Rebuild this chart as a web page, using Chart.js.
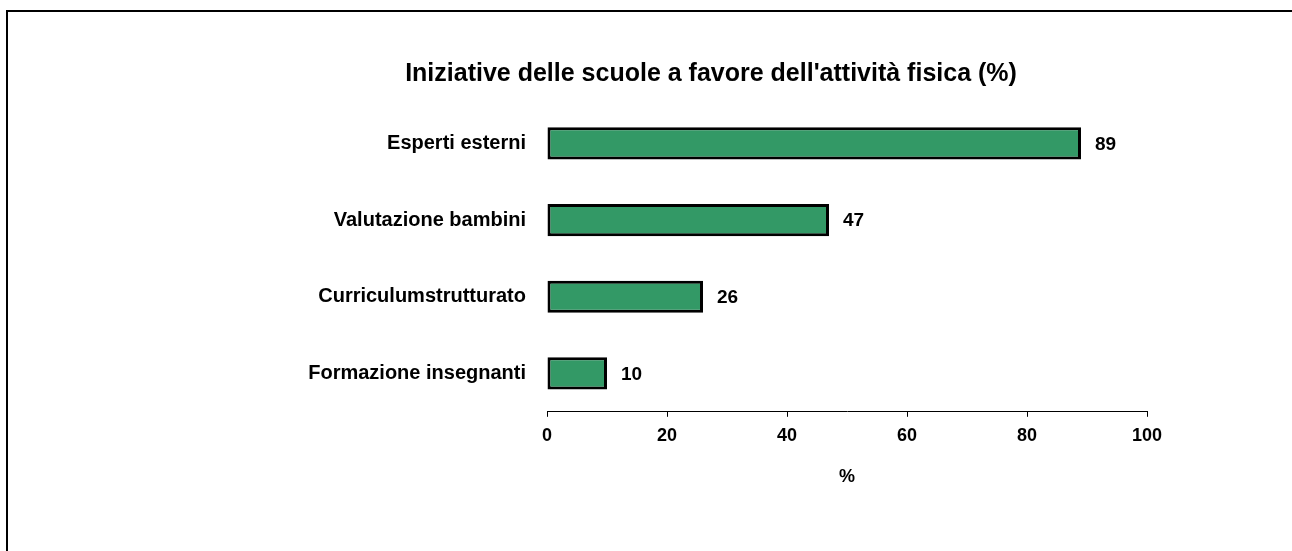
<!DOCTYPE html>
<html>
<head>
<meta charset="utf-8">
<script src="https://cdn.jsdelivr.net/npm/chart.js@4"></script>
<style>
  html, body { margin: 0; padding: 0; background: #fff; overflow: hidden; }
  #wrap { position: relative; width: 1292px; height: 551px; overflow: hidden; }
  #frame { position: absolute; left: 6px; top: 10px; width: 1400px; height: 600px; border: 2px solid #000; box-sizing: border-box; }
  #chart { position: absolute; left: 0; top: 0; }
</style>
</head>
<body>
<div id="wrap">
  <div id="frame"></div>
  <canvas id="chart" width="1292" height="551"></canvas>
</div>
<script>
const categories = ['Esperti esterni', 'Valutazione bambini', 'Curriculumstrutturato', 'Formazione insegnanti']
const values = [89, 47, 26, 10]
const xTicks = [0, 20, 40, 60, 80, 100]

const font = 'Arial, "Liberation Sans", sans-serif'

// value labels to the right of each bar
const barLabels = {
  id: 'barLabels',
  afterDatasetsDraw(chart) {
    const c = chart.ctx
    const meta = chart.getDatasetMeta(0)
    c.save()
    c.font = 'bold 19px ' + font
    c.fillStyle = '#000'
    c.textAlign = 'left'
    c.textBaseline = 'middle'
    meta.data.forEach((bar, i) => {
      c.fillText(values[i], bar.x + 14, bar.y + 1)
    })
    c.restore()
  }
}

new Chart(document.getElementById('chart'), {
  type: 'bar',
  data: {
    labels: categories,
    datasets: [{
      data: values,
      backgroundColor: '#339966',
      borderColor: '#000',
      borderWidth: 3,
      borderSkipped: false,
      barPercentage: 0.42,
      categoryPercentage: 1,
    }],
  },
  options: {
    indexAxis: 'y',
    responsive: false,
    animation: false,
    layout: {
      padding: { left: 275, right: 145, top: 0, bottom: 63 },
    },
    scales: {
      x: {
        min: 0,
        max: 100,
        afterBuildTicks: (axis) => {
          axis.ticks = xTicks.map(v => ({ value: v }))
        },
        grid: {
          drawOnChartArea: false,
          drawTicks: true,
          tickLength: 5,
          color: '#000',
        },
        border: { display: true, color: '#000', width: 1 },
        ticks: {
          color: '#000',
          padding: 8,
          font: { size: 18, weight: 'bold', family: font },
        },
        title: {
          display: true,
          text: '%',
          color: '#000',
          padding: { top: 12, bottom: 0 },
          font: { size: 18, weight: 'bold', family: font },
        },
      },
      y: {
        afterFit: (axis) => { axis.width = 272 },
        grid: { display: false, tickLength: 0 },
        border: { display: false },
        ticks: {
          color: '#000',
          padding: 21,
          font: { size: 20, weight: 'bold', family: font },
        },
      },
    },
    plugins: {
      legend: { display: false },
      tooltip: { enabled: false },
      title: {
        display: true,
        text: "Iniziative delle scuole a favore dell'attività fisica (%)",
        color: '#000',
        padding: { top: 59, bottom: 16 },
        font: { size: 25, weight: 'bold', family: font },
      },
    },
  },
  plugins: [barLabels],
})
</script>
</body>
</html>
